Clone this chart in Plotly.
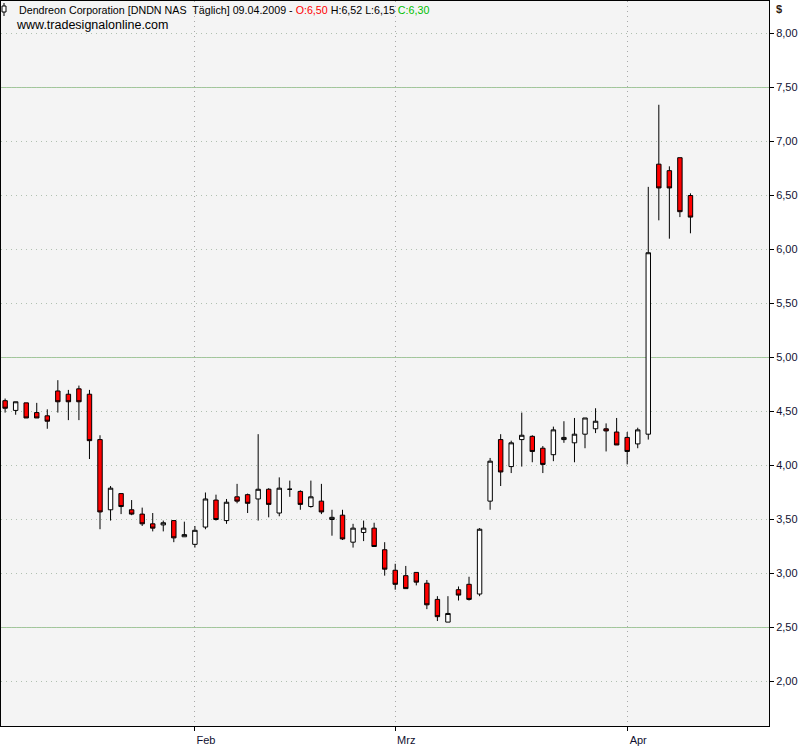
"""Dendreon daily candles, Jan-Apr 2009 (tradesignal style)."""

import plotly.graph_objects as go

# trading days shown on the chart
DATES = [
    "2009-01-06", "2009-01-07", "2009-01-08", "2009-01-09", "2009-01-12",
    "2009-01-13", "2009-01-14", "2009-01-15", "2009-01-16", "2009-01-20",
    "2009-01-21", "2009-01-22", "2009-01-23", "2009-01-26", "2009-01-27",
    "2009-01-28", "2009-01-29", "2009-01-30",
    "2009-02-02", "2009-02-03", "2009-02-04", "2009-02-05", "2009-02-06",
    "2009-02-09", "2009-02-10", "2009-02-11", "2009-02-12", "2009-02-13",
    "2009-02-17", "2009-02-18", "2009-02-19", "2009-02-20", "2009-02-23",
    "2009-02-24", "2009-02-25", "2009-02-26", "2009-02-27",
    "2009-03-02", "2009-03-03", "2009-03-04", "2009-03-05", "2009-03-06",
    "2009-03-09", "2009-03-10", "2009-03-11", "2009-03-12", "2009-03-13",
    "2009-03-16", "2009-03-17", "2009-03-18", "2009-03-19", "2009-03-20",
    "2009-03-23", "2009-03-24", "2009-03-25", "2009-03-26", "2009-03-27",
    "2009-03-30", "2009-03-31",
    "2009-04-01", "2009-04-02", "2009-04-03", "2009-04-06", "2009-04-07",
    "2009-04-08", "2009-04-09",
]

OPEN = [
    4.60, 4.51, 4.58, 4.49, 4.46, 4.69, 4.66, 4.71, 4.66, 4.24,
    3.59, 3.74, 3.59, 3.55, 3.46, 3.45, 3.49, 3.34,
    3.27, 3.43, 3.68, 3.49, 3.71, 3.73, 3.69, 3.78, 3.56, 3.78,
    3.76, 3.62, 3.67, 3.50, 3.54, 3.29, 3.38, 3.42, 3.22,
    3.03, 2.98, 3.01, 2.91, 2.76, 2.55, 2.85, 2.90, 2.81, 3.67,
    4.24, 3.99, 4.24, 4.27, 4.16, 4.10, 4.24, 4.21, 4.29, 4.34,
    4.34, 4.31,
    4.26, 4.20, 4.29, 6.79, 6.73, 6.85, 6.50,
]
HIGH = [
    4.62, 4.59, 4.58, 4.58, 4.52, 4.79, 4.70, 4.74, 4.70, 4.28,
    3.81, 3.74, 3.68, 3.61, 3.56, 3.49, 3.49, 3.48,
    3.44, 3.75, 3.73, 3.69, 3.83, 3.74, 4.29, 3.79, 3.89, 3.86,
    3.77, 3.86, 3.83, 3.59, 3.59, 3.46, 3.49, 3.47, 3.29,
    3.09, 3.07, 3.01, 2.94, 2.79, 2.79, 2.88, 2.97, 3.42, 4.07,
    4.29, 4.23, 4.49, 4.28, 4.18, 4.36, 4.41, 4.44, 4.44, 4.53,
    4.39, 4.44,
    4.31, 4.35, 6.58, 7.34, 6.77, 6.85, 6.52,
]
LOW = [
    4.49, 4.47, 4.44, 4.44, 4.34, 4.49, 4.42, 4.42, 4.06, 3.41,
    3.49, 3.55, 3.54, 3.44, 3.39, 3.39, 3.29, 3.34,
    3.24, 3.41, 3.49, 3.46, 3.65, 3.56, 3.49, 3.52, 3.53, 3.71,
    3.59, 3.61, 3.55, 3.35, 3.31, 3.24, 3.30, 3.25, 2.98,
    2.85, 2.86, 2.89, 2.67, 2.56, 2.55, 2.75, 2.75, 2.79, 3.59,
    3.81, 3.93, 3.99, 4.03, 3.93, 4.04, 4.21, 4.03, 4.16, 4.30,
    4.13, 4.19,
    4.01, 4.16, 4.24, 6.27, 6.10, 6.30, 6.15,
]
CLOSE = [
    4.53, 4.59, 4.44, 4.44, 4.41, 4.59, 4.59, 4.59, 4.23, 3.57,
    3.79, 3.62, 3.55, 3.46, 3.42, 3.47, 3.33, 3.36,
    3.40, 3.69, 3.50, 3.66, 3.67, 3.65, 3.78, 3.64, 3.79, 3.78,
    3.64, 3.71, 3.57, 3.52, 3.32, 3.42, 3.42, 3.25, 3.04,
    2.90, 2.86, 2.92, 2.71, 2.60, 2.63, 2.80, 2.76, 3.41, 4.04,
    3.94, 4.21, 4.28, 4.13, 4.01, 4.33, 4.26, 4.29, 4.44, 4.41,
    4.32, 4.19,
    4.13, 4.33, 5.97, 6.57, 6.57, 6.35, 6.30,
]

MONTH_TICKS = ["2009-02-02", "2009-03-02", "2009-04-01"]
MONTH_LABELS = ["Feb", "Mrz", "Apr"]
GREEN_LEVELS = [2.5, 5.0, 7.5]

HEADER = ('Dendreon Corporation [DNDN NAS  Täglich] 09.04.2009 - '
          '<span style="color:#ff0000">O:6,50</span> H:6,52 L:6,15 '
          '<span style="color:#00c000">C:6,30</span>')

fig = go.Figure()

fig.add_trace(go.Candlestick(
    x=DATES, open=OPEN, high=HIGH, low=LOW, close=CLOSE,
    increasing=dict(fillcolor='white', line=dict(color='black', width=1)),
    decreasing=dict(fillcolor='#ff0000', line=dict(color='black', width=1)),
    whiskerwidth=0,
    showlegend=False,
))

# solid green reference levels (between grid and candles)
for lvl in GREEN_LEVELS:
    fig.add_shape(type='line', xref='paper', x0=0, x1=1, y0=lvl, y1=lvl,
                  line=dict(color='#a0c898', width=1), layer='between')

# little candle icon before the title
fig.add_shape(type='line', xref='paper', yref='paper', xsizemode='pixel',
              ysizemode='pixel', xanchor=0, yanchor=1, x0=3, x1=3, y0=-2, y1=-15,
              line=dict(color='black', width=1))
fig.add_shape(type='rect', xref='paper', yref='paper', xsizemode='pixel',
              ysizemode='pixel', xanchor=0, yanchor=1, x0=1, x1=5, y0=-5, y1=-11,
              line=dict(color='black', width=1), fillcolor='white')

fig.add_annotation(text=HEADER, xref='paper', yref='paper', x=0, y=1,
                   xanchor='left', yanchor='middle', xshift=16, yshift=-9,
                   showarrow=False, font=dict(size=10.7, color='black'))
fig.add_annotation(text='www.tradesignalonline.com', xref='paper', yref='paper',
                   x=0, y=1, xanchor='left', yanchor='middle', xshift=13,
                   yshift=-24, showarrow=False, font=dict(size=12.5, color='black'))
fig.add_annotation(text='<b>$</b>', xref='paper', yref='paper', x=1, y=1,
                   xanchor='left', yanchor='middle', xshift=5, yshift=-8,
                   showarrow=False, font=dict(size=11, color='#302010'))

fig.update_layout(
    width=811,
    height=747,
    margin=dict(l=1, r=42, t=1, b=21, autoexpand=False),
    paper_bgcolor='white',
    plot_bgcolor='#f4f4f4',
    font=dict(family='Liberation Sans, Arial, sans-serif', size=11, color='#101030'),
    separators=',.',
    boxgap=0.4,
    xaxis=dict(
        type='category',
        automargin=False,
        rangeslider=dict(visible=False),
        range=[-0.39, 72.45],
        tickvals=MONTH_TICKS,
        ticktext=MONTH_LABELS,
        tickangle=0,
        ticks='outside', ticklen=4, tickcolor='black',
        ticklabelshift=11,
        showgrid=True, gridcolor='#a8a8a8', griddash='1px,4px',
        showline=True, linecolor='black', linewidth=1, mirror=True,
        zeroline=False,
    ),
    yaxis=dict(
        side='right',
        automargin=False,
        # 108 px per dollar, so the half-dollar lines land on whole pixels
        range=[1.58796, 8.30093],
        dtick=0.5,
        tick0=0,
        tickformat='.2f',
        ticks='outside', ticklen=4, tickcolor='black',
        showgrid=True, gridcolor='#b0c0b0', griddash='1px,4px',
        showline=True, linecolor='black', linewidth=1, mirror=True,
        zeroline=False,
    ),
)

# the page's default body margin would shift the chart by 8px
fig.write_html("out.html", config={'displayModeBar': False},
               post_script="document.body.style.margin='0';")
